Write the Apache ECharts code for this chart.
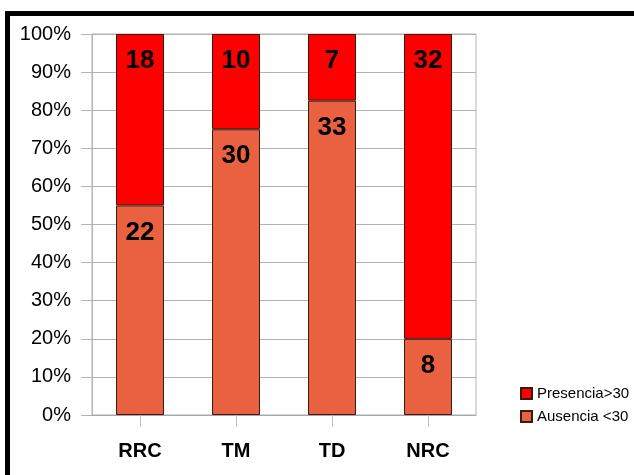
<!DOCTYPE html>
<html>
<head>
<meta charset="utf-8">
<script src="https://cdn.jsdelivr.net/npm/echarts@6/dist/echarts.min.js"></script>
<style>
  html, body { margin: 0; padding: 0; background: #fff; }
  #chart { width: 634px; height: 475px; }
</style>
</head>
<body>
<div id="chart"></div>
<script>
// Categories and raw counts per group
const categories = ['RRC', 'TM', 'TD', 'NRC'];
const ausencia = [22, 30, 33, 8];   // Ausencia <30
const presencia = [18, 10, 7, 32];  // Presencia>30
const yTicks = [0, 10, 20, 30, 40, 50, 60, 70, 80, 90, 100];

// Share of each count within its category (100% stacked)
const totals = categories.map((_, i) => ausencia[i] + presencia[i]);
const toPct = (arr) => arr.map((v, i) => ({ value: v / totals[i] * 100, count: v }));

const labelStyle = {
  show: true,
  position: 'insideTop',
  distance: 14,
  formatter: (p) => String(p.data.count),
  color: '#000',
  fontFamily: 'Liberation Sans, Arial, sans-serif',
  fontWeight: 'bold',
  fontSize: 26
};

const chart = echarts.init(document.getElementById('chart'), null, { renderer: 'canvas' });
chart.setOption({
  animation: false,
  backgroundColor: '#fff',
  grid: { left: 92, right: 158, top: 34, bottom: 60, show: true, borderColor: '#b3b3b3', borderWidth: 1 },
  legend: {
    data: ['Presencia>30', 'Ausencia <30'],
    orient: 'vertical',
    left: 520,
    top: 386,
    padding: 0,
    itemWidth: 11,
    itemHeight: 11,
    itemGap: 8,
    icon: 'rect',
    textStyle: { fontFamily: 'Liberation Sans, Arial, sans-serif', fontSize: 15, color: '#000' }
  },
  xAxis: {
    type: 'category',
    data: categories,
    axisLine: { lineStyle: { color: '#a6a6a6', width: 1 } },
    axisTick: { show: true, alignWithLabel: true, length: 12, lineStyle: { color: '#bdbdbd' } },
    axisLabel: { margin: 26, color: '#000', fontFamily: 'Liberation Sans, Arial, sans-serif', fontWeight: 'bold', fontSize: 20 },
    splitLine: { show: false }
  },
  yAxis: {
    type: 'value',
    min: yTicks[0],
    max: yTicks[yTicks.length - 1],
    interval: 10,
    axisLine: { show: true, lineStyle: { color: '#b3b3b3' } },
    axisTick: { show: true, length: 11, lineStyle: { color: '#b3b3b3' } },
    axisLabel: { margin: 21, formatter: '{value}%', color: '#000', fontFamily: 'Liberation Sans, Arial, sans-serif', fontSize: 20 },
    splitLine: { show: true, lineStyle: { color: '#b3b3b3', width: 1 } }
  },
  series: [
    {
      name: 'Ausencia <30',
      type: 'bar',
      stack: 'total',
      barWidth: '50%',
      data: toPct(ausencia),
      itemStyle: { color: '#ea6141', borderColor: '#3a1a10', borderWidth: 1 },
      label: labelStyle
    },
    {
      name: 'Presencia>30',
      type: 'bar',
      stack: 'total',
      barWidth: '50%',
      data: toPct(presencia),
      itemStyle: { color: '#ff0000', borderColor: '#3a1a10', borderWidth: 1 },
      label: labelStyle
    }
  ],
  graphic: [
    { type: 'rect', shape: { x: 5, y: 11, width: 629, height: 5 }, style: { fill: '#000' } },
    { type: 'rect', shape: { x: 5, y: 11, width: 5, height: 464 }, style: { fill: '#000' } }
  ]
});
</script>
</body>
</html>
